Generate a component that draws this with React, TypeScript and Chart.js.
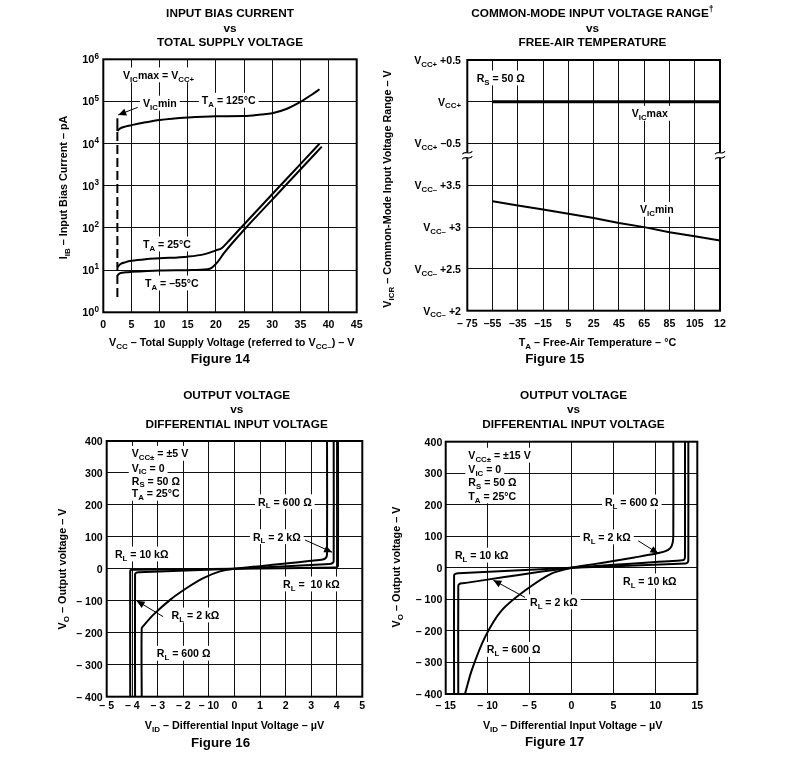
import { useEffect, useRef } from "react";
import { Chart, registerables } from "chart.js";

Chart.register(...registerables);

const W = 787;
const H = 763;
const FF = '"Liberation Sans", Arial, Helvetica, sans-serif';

// ================= Figure 14 data =================
const f14XTicks = [0, 5, 10, 15, 20, 25, 30, 35, 40, 45];
const f14XTickLabels = ["0", "5", "10", "15", "20", "25", "30", "35", "40", "45"];
const f14YTicks = [1, 10, 100, 1000, 10000, 100000, 1000000];
const f14YTickLabels = ["10^{0}", "10^{1}", "10^{2}", "10^{3}", "10^{4}", "10^{5}", "10^{6}"];
const f14Supply125 = [2.5, 3, 4, 5, 7.5, 10, 15, 20, 25, 28, 30, 32.5, 35, 37, 38.4];
const f14Bias125 = [20000, 23000, 25700, 27500, 32000, 36300, 41700, 44700, 45200, 49000, 52500, 66100, 97700, 144500, 195000];
const f14Supply25 = [2.5, 3, 4, 5, 7.5, 10, 15, 18, 20, 21, 22, 24.4, 28, 31.4, 35, 38.4];
const f14Bias25 = [11.7, 13.8, 15.5, 16.6, 18.2, 19.1, 20.9, 24, 29.5, 33.1, 45, 100, 327, 1000, 3270, 10000];
const f14SupplyM55 = [2.5, 3, 4, 5, 10, 15, 18.5, 19.3, 20.2, 21.5, 25.3, 29, 32.3, 36, 38.8];
const f14BiasM55 = [7.6, 8.5, 8.9, 9.1, 9.8, 10, 10.5, 11.5, 15, 26, 100, 338, 1000, 3380, 8510];
const f14VicMinSupply = [2.5, 2.5];
const f14VicMinDashed = [2.3, 20000];
const f14VicMinSolid = [20000, 40000];

// ================= Figure 15 data =================
const f15XTicks = [-75, -55, -35, -15, 5, 25, 45, 65, 85, 105, 125];
const f15XTickLabels = ["– 75", "–55", "–35", "–15", "5", "25", "45", "65", "85", "105", "12"];
const f15YTicks = [2, 2.5, 3, 3.5, 4, 4.5, 5];
const f15YTickLabels = [
  "V_{CC–} +2",
  "V_{CC–} +2.5",
  "V_{CC–} +3",
  "V_{CC–} +3.5",
  "V_{CC+} –0.5",
  "V_{CC+}",
  "V_{CC+} +0.5",
];
const f15Temp = [-55, -35, -15, 5, 25, 45, 65, 85, 105, 125];
const f15VicMinAboveVccMinus = [3.31, 3.26, 3.21, 3.16, 3.11, 3.05, 3.0, 2.94, 2.89, 2.84];
const f15VicMaxFromVccPlus = [0, 0, 0, 0, 0, 0, 0, 0, 0, 0];
const F15_VCCPLUS_AXIS = 4.5; // axis position of V_CC+ in the broken axis

// ================= Figure 16 data =================
const f16XTicks = [-5, -4, -3, -2, -1, 0, 1, 2, 3, 4, 5];
const f16XTickLabels = ["– 5", "– 4", "– 3", "– 2", "– 10", "0", "1", "2", "3", "4", "5"];
const voYTicks = [-400, -300, -200, -100, 0, 100, 200, 300, 400];
const voYTickLabels = ["– 400", "– 300", "– 200", "– 100", "0", "100", "200", "300", "400"];
const f16Vid600 = [-3.63, -3.63, -3.55, -3.18, -2.52, -1.87, -1.22, -0.57, 0, 1, 2, 3, 3.45, 3.57, 3.62, 3.62];
const f16Vo600 = [-400, -186, -177, -144, -97, -60, -29, -8, 0, 8.5, 17, 25, 29, 34, 45, 400];
const f16Vid2k = [-3.89, -3.89, -3.84, -3.75, 0, 3.72, 3.83, 3.88, 3.88];
const f16Vo2k = [-400, -17, -12, -10.5, 0, 15, 18, 24, 400];
const f16Vid10k = [-4.08, -4.08, -4.03, -3.95, 0, 3.95, 4.02, 4.05, 4.05];
const f16Vo10k = [-400, -6, -3, -2.5, 0, 4, 6, 10, 400];

// ================= Figure 17 data =================
const f17XTicks = [-15, -10, -5, 0, 5, 10, 15];
const f17XTickLabels = ["– 15", "– 10", "– 5", "0", "5", "10", "15"];
const f17Vid600 = [-12.7, -11.9, -10.3, -8.3, -5.5, -2.4, 0, 2.5, 5, 7.5, 9.5, 10.35, 11.2, 11.75, 12.05, 12.14, 12.14];
const f17Vo600 = [-400, -325, -219, -134, -71, -18, 0, 11, 22, 33, 42, 47, 53, 62, 78, 105, 400];
const f17Vid2k = [-13.5, -13.5, -13.35, -13.0, 0, 13.2, 13.45, 13.53, 13.53];
const f17Vo2k = [-400, -58, -51, -49, 0, 24, 27, 35, 400];
const f17Vid10k = [-14.0, -14.0, -13.85, -13.5, 0, 13.6, 13.85, 13.93, 13.93];
const f17Vo10k = [-400, -24, -19, -17, 0, 14, 17, 25, 400];

// ================= rich text helpers =================
type Seg = { t: string; k: 0 | 1 | 2 };
function parse(s: string): Seg[] {
  const out: Seg[] = [];
  let buf = "";
  let i = 0;
  while (i < s.length) {
    const c = s[i];
    if ((c === "_" || c === "^") && s[i + 1] === "{") {
      if (buf) {
        out.push({ t: buf, k: 0 });
        buf = "";
      }
      const end = s.indexOf("}", i + 2);
      out.push({ t: s.slice(i + 2, end), k: c === "_" ? 1 : 2 });
      i = end + 1;
    } else {
      buf += c;
      i++;
    }
  }
  if (buf) out.push({ t: buf, k: 0 });
  return out;
}
function segFont(size: number, k: number) {
  return `bold ${k ? size * 0.74 : size}px ${FF}`;
}
function richWidth(ctx: CanvasRenderingContext2D, s: string, size: number) {
  let w = 0;
  for (const seg of parse(s)) {
    ctx.font = segFont(size, seg.k);
    w += ctx.measureText(seg.t).width;
  }
  return w;
}
function drawRich(
  ctx: CanvasRenderingContext2D,
  s: string,
  x: number,
  baseline: number,
  size: number,
  align: "left" | "center" | "right"
) {
  const w = richWidth(ctx, s, size);
  let cx = align === "center" ? x - w / 2 : align === "right" ? x - w : x;
  ctx.textAlign = "left";
  ctx.textBaseline = "alphabetic";
  ctx.fillStyle = "#000";
  for (const seg of parse(s)) {
    ctx.font = segFont(size, seg.k);
    const dy = seg.k === 1 ? size * 0.27 : seg.k === 2 ? -size * 0.42 : 0;
    ctx.fillText(seg.t, cx, baseline + dy);
    cx += ctx.measureText(seg.t).width;
  }
}

// ================= figure configs =================
type Note = { s: string; x: number; y: number };
type Arrow = { x1: number; y1: number; x2: number; y2: number };
type PageText = { s: string; x: number; y: number; size: number; rot?: boolean };
interface Fig {
  area: [number, number, number, number];
  xMin: number;
  xMax: number;
  xTicks: number[];
  xTickLabels: string[];
  xTickBase: number;
  yType: "linear" | "logarithmic";
  yMin: number;
  yMax: number;
  yTicks: number[];
  yTickLabels: string[];
  yTickRight: number;
  yTickSize: number;
  datasets: any[];
  notes: Note[];
  arrows: Arrow[];
  texts: PageText[];
  breakY?: number;
}

const line = (xs: number[], ys: number[], extra: any = {}) => ({
  data: xs.map((x, i) => ({ x, y: ys[i] })),
  borderColor: "#000",
  borderWidth: 2,
  pointRadius: 0,
  fill: false,
  tension: 0,
  ...extra,
});

const TITLE = 11.8;
const AX = 10.8;
const FIGSZ = 13.3;
const NOTE = 10.6;
const TICK = 10.6;

const fig14: Fig = {
  area: [103.3, 59.3, 356.7, 312.3],
  xMin: 0,
  xMax: 45,
  xTicks: f14XTicks,
  xTickLabels: f14XTickLabels,
  xTickBase: 327.7,
  yType: "logarithmic",
  yMin: 1,
  yMax: 1000000,
  yTicks: f14YTicks,
  yTickLabels: f14YTickLabels,
  yTickRight: 99,
  yTickSize: 11,
  datasets: [
    line(f14Supply125, f14Bias125, { cubicInterpolationMode: "monotone" }),
    line(f14Supply25, f14Bias25, { cubicInterpolationMode: "monotone" }),
    line(f14SupplyM55, f14BiasM55, { cubicInterpolationMode: "monotone" }),
    line(f14VicMinSupply, f14VicMinDashed, { borderDash: [9, 4] }),
    line(f14VicMinSupply, f14VicMinSolid),
  ],
  notes: [
    { s: "V_{IC}max = V_{CC+}", x: 3.5, y: 426600 },
    { s: "V_{IC}min", x: 7.05, y: 91200 },
    { s: "T_{A} = 125°C", x: 17.5, y: 107000 },
    { s: "T_{A} = 25°C", x: 7.05, y: 41.7 },
    { s: "T_{A} = –55°C", x: 7.4, y: 4.95 },
  ],
  arrows: [{ x1: 6.1, y1: 72400, x2: 2.65, y2: 47900 }],
  texts: [
    { s: "INPUT BIAS CURRENT", x: 230, y: 17.3, size: TITLE },
    { s: "vs", x: 230, y: 31.5, size: TITLE },
    { s: "TOTAL SUPPLY VOLTAGE", x: 230, y: 46, size: TITLE },
    { s: "V_{CC} – Total Supply Voltage (referred to V_{CC–}) – V", x: 231.7, y: 345.7, size: AX },
    { s: "Figure 14", x: 220.3, y: 363.3, size: FIGSZ },
    { s: "I_{IB} – Input Bias Current – pA", x: 63.5, y: 187.5, size: AX, rot: true },
  ],
};

const fig15: Fig = {
  area: [467.3, 60, 720, 310.7],
  xMin: -75,
  xMax: 125,
  xTicks: f15XTicks,
  xTickLabels: f15XTickLabels,
  xTickBase: 326.7,
  yType: "linear",
  yMin: 2,
  yMax: 5,
  yTicks: f15YTicks,
  yTickLabels: f15YTickLabels,
  yTickRight: 461,
  yTickSize: TICK,
  datasets: [
    line(
      f15Temp,
      f15VicMaxFromVccPlus.map((v) => v + F15_VCCPLUS_AXIS),
      { borderWidth: 3 }
    ),
    line(f15Temp, f15VicMinAboveVccMinus),
  ],
  notes: [
    { s: "R_{S} = 50 Ω", x: -67.6, y: 4.785 },
    { s: "V_{IC}max", x: 55.1, y: 4.362 },
    { s: "V_{IC}min", x: 61.7, y: 3.213 },
  ],
  arrows: [],
  texts: [
    { s: "COMMON-MODE INPUT VOLTAGE RANGE^{†}", x: 592.5, y: 17.3, size: TITLE },
    { s: "vs", x: 592.5, y: 31.7, size: TITLE },
    { s: "FREE-AIR TEMPERATURE", x: 592.5, y: 46, size: TITLE },
    { s: "T_{A} – Free-Air Temperature – °C", x: 597.5, y: 345.7, size: AX },
    { s: "Figure 15", x: 554.8, y: 363.3, size: FIGSZ },
    { s: "V_{ICR} – Common-Mode Input Voltage Range – V", x: 387, y: 189, size: AX, rot: true },
  ],
  breakY: 3.86,
};

const fig16: Fig = {
  area: [106.7, 441, 362.3, 696.7],
  xMin: -5,
  xMax: 5,
  xTicks: f16XTicks,
  xTickLabels: f16XTickLabels,
  xTickBase: 709.3,
  yType: "linear",
  yMin: -400,
  yMax: 400,
  yTicks: voYTicks,
  yTickLabels: voYTickLabels,
  yTickRight: 102.7,
  yTickSize: TICK,
  datasets: [
    line(f16Vid600, f16Vo600, { tension: 0.25 }),
    line(f16Vid2k, f16Vo2k, { tension: 0.2 }),
    line(f16Vid10k, f16Vo10k, { tension: 0.2 }),
  ],
  notes: [
    { s: "V_{CC±} = ±5 V", x: -4.02, y: 361.5 },
    { s: "V_{IC} = 0", x: -4.02, y: 316.5 },
    { s: "R_{S} = 50 Ω", x: -4.02, y: 275.8 },
    { s: "T_{A} = 25°C", x: -4.02, y: 236.4 },
    { s: "R_{L} = 600 Ω", x: 0.92, y: 210 },
    { s: "R_{L} = 2 kΩ", x: 0.72, y: 100.6 },
    { s: "R_{L} = 10 kΩ", x: -4.68, y: 46.5 },
    { s: "R_{L} =  10 kΩ", x: 1.9, y: -47.4 },
    { s: "R_{L} = 2 kΩ", x: -2.46, y: -144.4 },
    { s: "R_{L} = 600 Ω", x: -3.04, y: -264 },
  ],
  arrows: [
    { x1: 2.76, y1: 90.3, x2: 3.82, y2: 52 },
    { x1: -2.79, y1: -149.7, x2: -3.83, y2: -99.7 },
  ],
  texts: [
    { s: "OUTPUT VOLTAGE", x: 236.7, y: 398.7, size: TITLE },
    { s: "vs", x: 236.7, y: 412.7, size: TITLE },
    { s: "DIFFERENTIAL INPUT VOLTAGE", x: 236.7, y: 427.7, size: TITLE },
    { s: "V_{ID} – Differential Input Voltage – µV", x: 234.5, y: 729, size: AX },
    { s: "Figure 16", x: 220.5, y: 746.7, size: FIGSZ },
    { s: "V_{O} – Output voltage – V", x: 62.5, y: 569, size: AX, rot: true },
  ],
};

const fig17: Fig = {
  area: [445.7, 441.7, 697.3, 694],
  xMin: -15,
  xMax: 15,
  xTicks: f17XTicks,
  xTickLabels: f17XTickLabels,
  xTickBase: 709.3,
  yType: "linear",
  yMin: -400,
  yMax: 400,
  yTicks: voYTicks,
  yTickLabels: voYTickLabels,
  yTickRight: 442.3,
  yTickSize: TICK,
  datasets: [
    line(f17Vid600, f17Vo600, { tension: 0.25 }),
    line(f17Vid2k, f17Vo2k, { tension: 0.2 }),
    line(f17Vid10k, f17Vo10k, { tension: 0.2 }),
  ],
  notes: [
    { s: "V_{CC±} = ±15 V", x: -12.3, y: 357.3 },
    { s: "V_{IC} = 0", x: -12.3, y: 313 },
    { s: "R_{S} = 50 Ω", x: -12.3, y: 272.7 },
    { s: "T_{A} = 25°C", x: -12.3, y: 228.3 },
    { s: "R_{L} = 600 Ω", x: 3.99, y: 209 },
    { s: "R_{L} = 2 kΩ", x: 1.37, y: 98.3 },
    { s: "R_{L} = 10 kΩ", x: -13.9, y: 40.3 },
    { s: "R_{L} = 10 kΩ", x: 6.14, y: -41.2 },
    { s: "R_{L} = 2 kΩ", x: -4.95, y: -107.8 },
    { s: "R_{L} = 600 Ω", x: -10.1, y: -258.7 },
  ],
  arrows: [
    { x1: 7.96, y1: 85.6, x2: 10.35, y2: 45.7 },
    { x1: -5.54, y1: -93.8, x2: -9.32, y2: -39 },
  ],
  texts: [
    { s: "OUTPUT VOLTAGE", x: 573.5, y: 398.7, size: TITLE },
    { s: "vs", x: 573.5, y: 412.7, size: TITLE },
    { s: "DIFFERENTIAL INPUT VOLTAGE", x: 573.5, y: 427.7, size: TITLE },
    { s: "V_{ID} – Differential Input Voltage – µV", x: 572.7, y: 729, size: AX },
    { s: "Figure 17", x: 554.5, y: 746, size: FIGSZ },
    { s: "V_{O} – Output voltage – V", x: 396, y: 567, size: AX, rot: true },
  ],
};

const FIGS = [fig14, fig15, fig16, fig17];

function drawArrow(ctx: CanvasRenderingContext2D, x1: number, y1: number, x2: number, y2: number) {
  ctx.beginPath();
  ctx.moveTo(x1, y1);
  ctx.lineTo(x2, y2);
  ctx.lineWidth = 1;
  ctx.strokeStyle = "#000";
  ctx.stroke();
  const a = Math.atan2(y2 - y1, x2 - x1);
  const L = 8;
  const hw = 3.6;
  const bx = x2 - L * Math.cos(a);
  const by = y2 - L * Math.sin(a);
  ctx.beginPath();
  ctx.moveTo(x2, y2);
  ctx.lineTo(bx + hw * Math.sin(a), by - hw * Math.cos(a));
  ctx.lineTo(bx - hw * Math.sin(a), by + hw * Math.cos(a));
  ctx.closePath();
  ctx.fillStyle = "#000";
  ctx.fill();
}

function makePlugin(f: Fig, idx: number) {
  return {
    id: "figdeco" + idx,
    beforeDatasetsDraw(chart: any) {
      const ctx: CanvasRenderingContext2D = chart.ctx;
      const a = chart.chartArea;
      const xs = chart.scales.x;
      const ys = chart.scales.y;
      ctx.save();
      for (const n of f.notes) {
        const px = xs.getPixelForValue(n.x);
        const py = ys.getPixelForValue(n.y);
        const w = richWidth(ctx, n.s, NOTE);
        ctx.fillStyle = "#fff";
        ctx.fillRect(px - 3, py - NOTE * 0.7, w + 6, NOTE * 1.4);
      }
      ctx.strokeStyle = "#000";
      ctx.lineWidth = 2;
      ctx.strokeRect(a.left, a.top, a.right - a.left, a.bottom - a.top);
      if (f.breakY !== undefined) {
        const py = ys.getPixelForValue(f.breakY);
        for (const x of [a.left, a.right]) {
          ctx.fillStyle = "#fff";
          ctx.fillRect(x - 3, py - 2.5, 6, 5);
          ctx.lineWidth = 1.1;
          ctx.strokeStyle = "#000";
          for (const dy of [-2.5, 2.5]) {
            ctx.beginPath();
            ctx.moveTo(x - 5, py + dy + 1.5);
            ctx.bezierCurveTo(x - 2, py + dy - 3, x + 2, py + dy + 3, x + 5, py + dy - 1.5);
            ctx.stroke();
          }
        }
      }
      ctx.restore();
    },
    afterDraw(chart: any) {
      const ctx: CanvasRenderingContext2D = chart.ctx;
      const xs = chart.scales.x;
      const ys = chart.scales.y;
      ctx.save();
      for (const ar of f.arrows) {
        drawArrow(
          ctx,
          xs.getPixelForValue(ar.x1),
          ys.getPixelForValue(ar.y1),
          xs.getPixelForValue(ar.x2),
          ys.getPixelForValue(ar.y2)
        );
      }
      for (const n of f.notes) {
        const px = xs.getPixelForValue(n.x);
        const py = ys.getPixelForValue(n.y);
        drawRich(ctx, n.s, px, py + NOTE * 0.36, NOTE, "left");
      }
      f.xTicks.forEach((v, i) => {
        drawRich(ctx, f.xTickLabels[i], xs.getPixelForValue(v), f.xTickBase, TICK, "center");
      });
      f.yTicks.forEach((v, i) => {
        const py = ys.getPixelForValue(v);
        drawRich(ctx, f.yTickLabels[i], f.yTickRight, py + f.yTickSize * 0.36, f.yTickSize, "right");
      });
      for (const t of f.texts) {
        if (t.rot) {
          ctx.save();
          ctx.translate(t.x, t.y);
          ctx.rotate(-Math.PI / 2);
          drawRich(ctx, t.s, 0, t.size * 0.36, t.size, "center");
          ctx.restore();
        } else {
          drawRich(ctx, t.s, t.x, t.y, t.size, "center");
        }
      }
      ctx.restore();
    },
  };
}

function buildConfig(f: Fig, idx: number): any {
  const [l, t, r, b] = f.area;
  const grid = { color: "#111", lineWidth: 1, drawTicks: false };
  return {
    type: "line",
    data: { datasets: f.datasets },
    options: {
      responsive: false,
      animation: false,
      events: [],
      layout: { padding: { left: l, top: t, right: W - r, bottom: H - b } },
      plugins: {
        legend: { display: false },
        title: { display: false },
        tooltip: { enabled: false },
      },
      scales: {
        x: {
          type: "linear",
          min: f.xMin,
          max: f.xMax,
          afterBuildTicks: (s: any) => {
            s.ticks = f.xTicks.map((v) => ({ value: v }));
          },
          ticks: { display: false },
          grid,
          border: { display: false },
        },
        y: {
          type: f.yType,
          min: f.yMin,
          max: f.yMax,
          afterBuildTicks: (s: any) => {
            s.ticks = f.yTicks.map((v) => ({ value: v }));
          },
          ticks: { display: false },
          grid,
          border: { display: false },
        },
      },
    },
    plugins: [makePlugin(f, idx)],
  };
}

function FigCanvas({ fig, idx }: { fig: Fig; idx: number }) {
  const ref = useRef<HTMLCanvasElement>(null);
  useEffect(() => {
    const chart = new Chart(ref.current as HTMLCanvasElement, buildConfig(fig, idx));
    return () => chart.destroy();
  }, [fig, idx]);
  return (
    <canvas
      ref={ref}
      width={W}
      height={H}
      style={{ position: "absolute", left: 0, top: 0, width: W, height: H }}
    />
  );
}

export default function App() {
  return (
    <div
      style={{
        position: "absolute",
        left: 0,
        top: 0,
        width: W,
        height: H,
        background: "#fff",
        overflow: "hidden",
      }}
    >
      {FIGS.map((f, i) => (
        <FigCanvas key={i} fig={f} idx={i} />
      ))}
    </div>
  );
}
